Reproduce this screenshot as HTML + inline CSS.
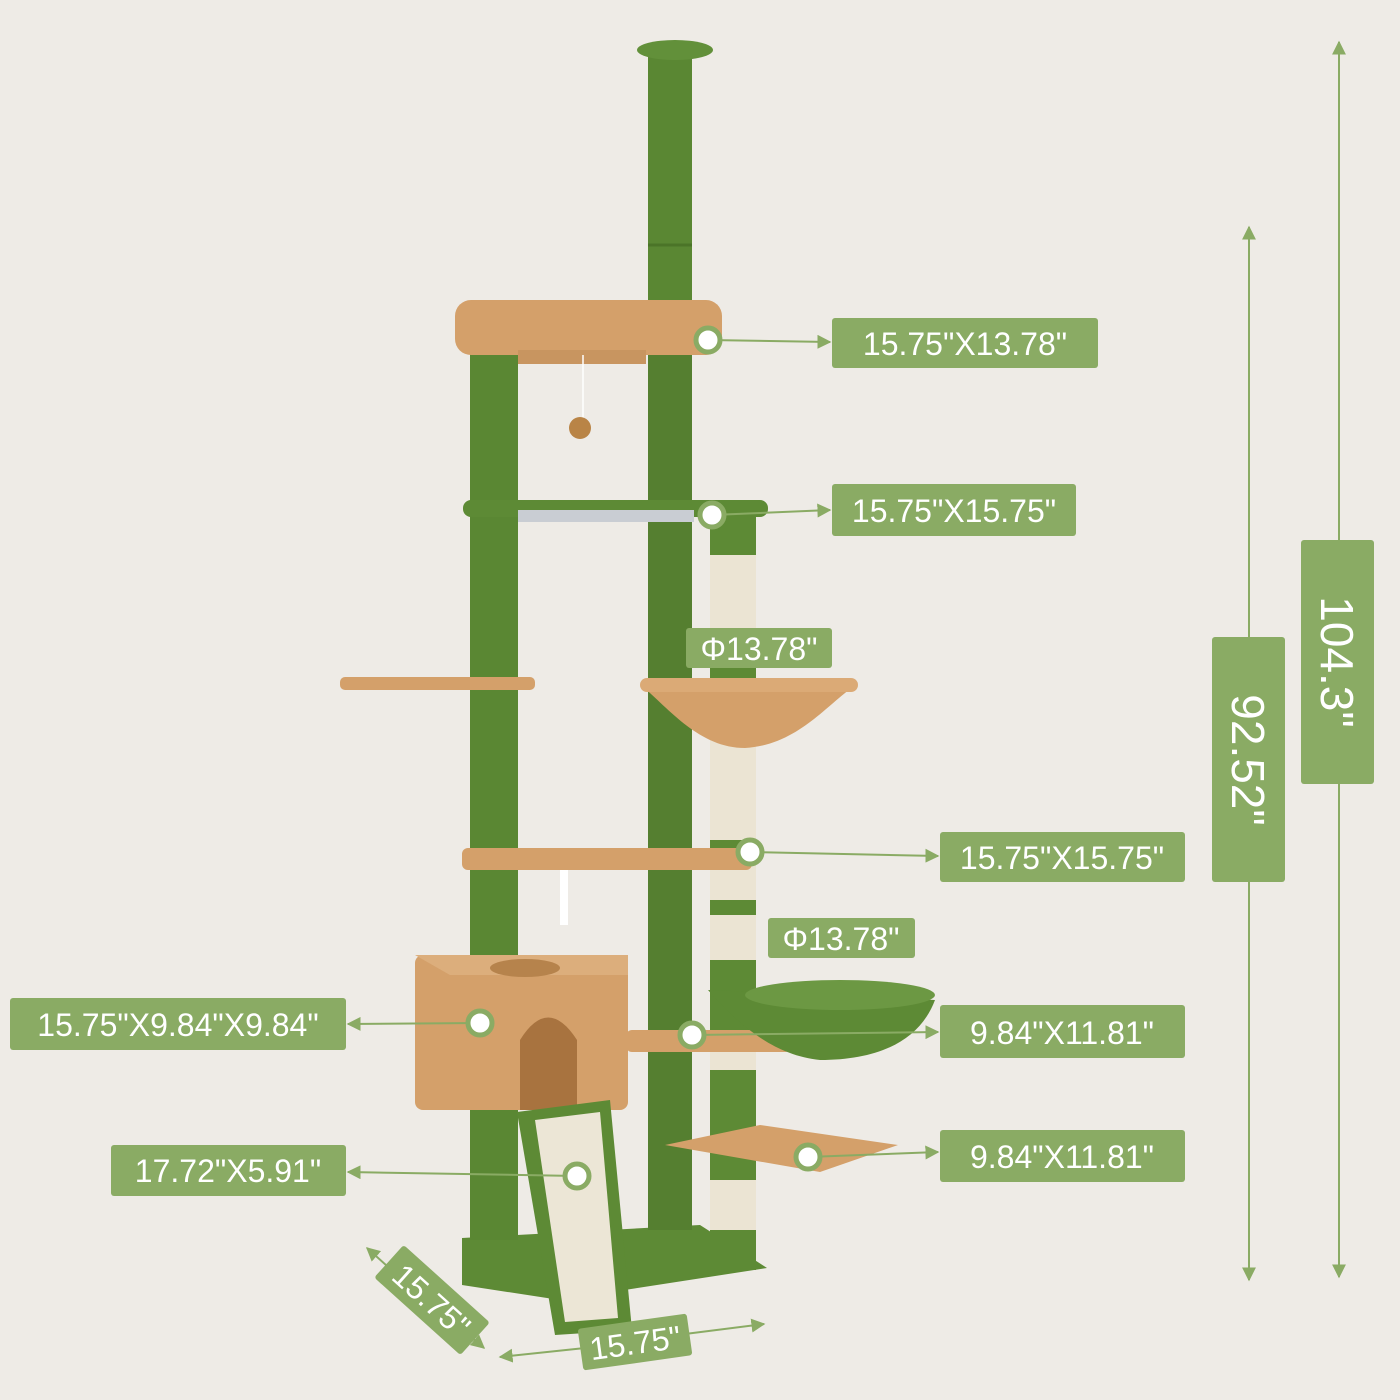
<!DOCTYPE html>
<html><head><meta charset="utf-8"><style>
html,body{margin:0;padding:0;background:#eeebe6;}
svg{display:block;}
text{font-family:"Liberation Sans",sans-serif;fill:#fff;}
</style></head><body>
<svg width="1400" height="1400" viewBox="0 0 1400 1400" xmlns="http://www.w3.org/2000/svg">
<defs>
<marker id="ah" viewBox="0 0 10 10" refX="9" refY="5" markerWidth="7" markerHeight="7" orient="auto-start-reverse"><path d="M0,0L10,5L0,10z" fill="#8aab64"/></marker>
</defs>
<rect width="1400" height="1400" fill="#eeebe6"/>

<!-- base -->
<polygon points="462,1238 700,1225 767,1268 560,1300 462,1285" fill="#5d8a35"/>
<!-- top pole -->
<rect x="648" y="55" width="44" height="280" fill="#5a8733"/>
<ellipse cx="675" cy="50" rx="38" ry="10" fill="#62903a"/>
<line x1="648" y1="245" x2="692" y2="245" stroke="#4b7428" stroke-width="3"/>
<!-- posts -->
<rect x="470" y="345" width="48" height="895" fill="#5a8733"/>
<rect x="648" y="350" width="44" height="880" fill="#557f30"/>
<!-- right sisal post -->
<rect x="710" y="510" width="46" height="760" fill="#5d8a35"/>
<g fill="#ebe4d3">
<rect x="710" y="555" width="46" height="75"/>
<rect x="710" y="690" width="46" height="150"/>
<rect x="710" y="865" width="46" height="35"/>
<rect x="710" y="915" width="46" height="45"/>
<rect x="710" y="1030" width="46" height="40"/>
<rect x="710" y="1180" width="46" height="50"/>
</g>
<!-- top platform -->
<rect x="455" y="300" width="267" height="55" rx="16" fill="#d4a06a"/>
<rect x="518" y="350" width="128" height="14" fill="#c89560"/>
<line x1="583" y1="355" x2="583" y2="418" stroke="#fff" stroke-width="1.5"/>
<circle cx="580" cy="428" r="11" fill="#b98446"/>
<!-- platform 2 -->
<rect x="463" y="500" width="305" height="17" rx="8" fill="#5d8a35"/>
<rect x="518" y="510" width="176" height="12" fill="#c9cdd3"/>
<!-- left shelf -->
<rect x="340" y="677" width="195" height="13" rx="5" fill="#d4a06a"/>
<!-- tan hammock -->
<path d="M640,684 L858,684 C830,700 800,745 745,748 C700,748 670,710 640,684z" fill="#d4a06a"/>
<rect x="640" y="678" width="218" height="14" rx="7" fill="#dbaa76"/>
<!-- platform 3 -->
<rect x="462" y="848" width="290" height="22" rx="6" fill="#d4a06a"/>
<rect x="560" y="870" width="8" height="55" fill="#fff"/>
<!-- condo -->
<rect x="415" y="955" width="213" height="155" rx="8" fill="#d4a06a"/>
<polygon points="415,955 450,975 628,975 628,955" fill="#dcae7c"/>
<ellipse cx="525" cy="968" rx="35" ry="9" fill="#b6834c"/>
<path d="M520,1110 L520,1040 Q548,995 577,1040 L577,1110z" fill="#a8733f"/>
<!-- small shelf -->
<rect x="626" y="1030" width="165" height="22" rx="6" fill="#d4a06a"/>
<!-- green hammock -->
<path d="M708,990 L935,1000 C920,1040 880,1060 820,1060 C770,1055 735,1020 708,990z" fill="#5d8a35"/>
<ellipse cx="840" cy="995" rx="95" ry="15" fill="#6c9843"/>
<!-- bottom shelf -->
<polygon points="665,1145 760,1125 898,1145 820,1172" fill="#d4a06a"/>
<!-- ramp -->
<polygon points="517,1112 610,1100 632,1330 555,1335" fill="#5d8a35"/>
<polygon points="535,1120 600,1112 618,1318 565,1322" fill="#ece6d6"/>

<!-- connectors -->
<g stroke="#8aab64" stroke-width="2" fill="none" marker-end="url(#ah)">
<line x1="708" y1="340" x2="830" y2="342"/>
<line x1="712" y1="515" x2="830" y2="510"/>
<line x1="750" y1="852" x2="938" y2="856"/>
<line x1="692" y1="1035" x2="938" y2="1032"/>
<line x1="808" y1="1157" x2="938" y2="1152"/>
<line x1="480" y1="1023" x2="348" y2="1024"/>
<line x1="577" y1="1176" x2="348" y2="1172"/>
<line x1="1249" y1="640" x2="1249" y2="227" />
<line x1="1249" y1="880" x2="1249" y2="1280" />
<line x1="1339" y1="540" x2="1339" y2="42" />
<line x1="1339" y1="784" x2="1339" y2="1277" />
<line x1="425" y1="1300" x2="367" y2="1248"/>
<line x1="440" y1="1310" x2="484" y2="1348"/>
<line x1="585" y1="1348" x2="500" y2="1357"/>
<line x1="685" y1="1334" x2="764" y2="1324"/>
</g>
<g fill="#fff" stroke="#8aab64" stroke-width="5">
<circle cx="708" cy="340" r="12"/><circle cx="712" cy="515" r="12"/>
<circle cx="750" cy="852" r="12"/><circle cx="480" cy="1023" r="12"/>
<circle cx="692" cy="1035" r="12"/><circle cx="808" cy="1157" r="12"/>
<circle cx="577" cy="1176" r="12"/>
</g>

<!-- labels -->
<g fill="#8aab64">
<rect x="832" y="318" width="266" height="50" rx="3"/>
<rect x="832" y="484" width="244" height="52" rx="3"/>
<rect x="686" y="628" width="146" height="40" rx="3"/>
<rect x="940" y="832" width="245" height="50" rx="3"/>
<rect x="768" y="918" width="147" height="40" rx="3"/>
<rect x="940" y="1005" width="245" height="53" rx="3"/>
<rect x="940" y="1130" width="245" height="52" rx="3"/>
<rect x="10" y="998" width="336" height="52" rx="3"/>
<rect x="111" y="1145" width="235" height="51" rx="3"/>
<rect x="1212" y="637" width="73" height="245" rx="3"/>
<rect x="1301" y="540" width="73" height="244" rx="3"/>
</g>
<g font-size="32" text-anchor="middle">
<text x="965" y="355">15.75"X13.78"</text>
<text x="954" y="522">15.75"X15.75"</text>
<text x="759" y="660">Φ13.78"</text>
<text x="1062" y="869">15.75"X15.75"</text>
<text x="841" y="950">Φ13.78"</text>
<text x="1062" y="1044">9.84"X11.81"</text>
<text x="1062" y="1168">9.84"X11.81"</text>
<text x="178" y="1036">15.75"X9.84"X9.84"</text>
<text x="228" y="1182">17.72"X5.91"</text>
<text font-size="46" transform="translate(1232,760) rotate(90)">92.52"</text>
<text font-size="46" transform="translate(1321,662) rotate(90)">104.3"</text>
</g>
<g transform="translate(432,1300) rotate(42)">
<rect x="-58" y="-22" width="116" height="44" rx="3" fill="#8aab64"/>
<text x="0" y="12" font-size="32" text-anchor="middle">15.75"</text>
</g>
<g transform="translate(635,1342) rotate(-8)">
<rect x="-55" y="-21" width="110" height="42" rx="3" fill="#8aab64"/>
<text x="0" y="12" font-size="32" text-anchor="middle">15.75"</text>
</g>
</svg>
</body></html>
